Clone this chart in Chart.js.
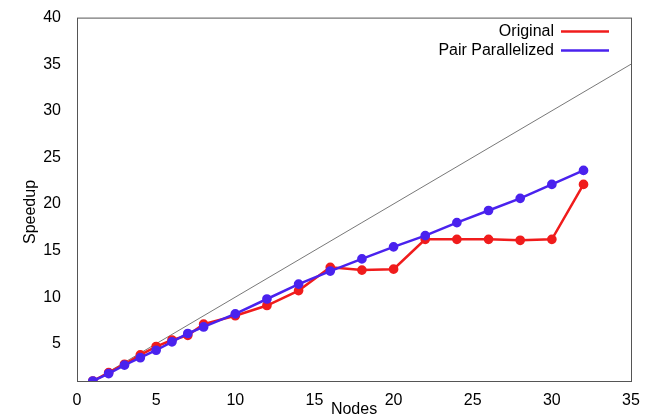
<!DOCTYPE html>
<html>
<head>
<meta charset="utf-8">
<script src="https://cdn.jsdelivr.net/npm/chart.js@4/dist/chart.umd.min.js"></script>
<style>
  html, body { margin: 0; padding: 0; background: #fff; }
  #wrap { width: 652px; height: 419px; }
</style>
</head>
<body>
<div id="wrap"><canvas id="c" width="652" height="419"></canvas></div>
<script>
// node counts
const nodes = [1, 2, 3, 4, 5, 6, 7, 8, 10, 12, 14, 16, 18, 20, 22, 24, 26, 28, 30, 32];
const original = [1, 1.9, 2.8, 3.8, 4.7, 5.4, 5.9, 7.1, 8.0, 9.1, 10.7, 13.2, 12.9, 13.0, 16.2, 16.2, 16.2, 16.1, 16.2, 22.1];
const pairParallelized = [1, 1.8, 2.7, 3.5, 4.3, 5.2, 6.1, 6.8, 8.2, 9.8, 11.4, 12.8, 14.1, 15.4, 16.6, 18.0, 19.3, 20.6, 22.1, 23.6];
// ideal speedup line
const idealX = [1, 35];
const xTicks = [0, 5, 10, 15, 20, 25, 30, 35];
const yTicks = [5, 10, 15, 20, 25, 30, 35, 40];

const font = "'Liberation Sans', Arial, sans-serif";
const toPts = (xs, ys) => xs.map((x, i) => ({ x: x, y: ys[i] }));

// box around the plot, y title, legend inside top right
const framePlugin = {
    id: 'frame',
    afterDraw(chart) {
        const { ctx, chartArea: a } = chart;
        ctx.save();
        ctx.strokeStyle = '#555';
        ctx.lineWidth = 1;
        ctx.strokeRect(a.left + 0.5, a.top + 0.5, a.right - a.left, a.bottom - a.top);

        ctx.font = '16px ' + font;
        ctx.fillStyle = '#000';
        ctx.textAlign = 'center';
        ctx.textBaseline = 'middle';
        ctx.save();
        ctx.translate(31, 212);
        ctx.rotate(-Math.PI / 2);
        ctx.fillText('Speedup', 0, 0);
        ctx.restore();

        ctx.textAlign = 'right';
        const items = chart.data.datasets.filter(d => d.label);
        items.forEach((d, i) => {
            const y = a.top + 14 + i * 19;
            ctx.fillStyle = '#000';
            ctx.fillText(d.label, a.right - 77, y);
            ctx.strokeStyle = d.borderColor;
            ctx.lineWidth = 2.5;
            ctx.beginPath();
            ctx.moveTo(a.right - 70, y);
            ctx.lineTo(a.right - 22, y);
            ctx.stroke();
        });
        ctx.restore();
    }
};

new Chart(document.getElementById('c'), {
    type: 'line',
    data: {
        datasets: [
            {
                label: 'Original',
                data: toPts(nodes, original),
                borderColor: '#f01c1c',
                backgroundColor: '#f01c1c',
                borderWidth: 2.5,
                pointRadius: 3.6,
                pointHoverRadius: 3.6,
                order: 1
            },
            {
                label: 'Pair Parallelized',
                data: toPts(nodes, pairParallelized),
                borderColor: '#4a22ee',
                backgroundColor: '#4a22ee',
                borderWidth: 2.5,
                pointRadius: 3.6,
                pointHoverRadius: 3.6,
                order: 0
            },
            {
                label: '',
                data: toPts(idealX, idealX),
                borderColor: '#555',
                borderWidth: 0.8,
                pointRadius: 0,
                order: 2
            }
        ]
    },
    options: {
        responsive: false,
        animation: false,
        layout: { padding: { left: 0, top: 13, right: 21, bottom: 0 } },
        plugins: {
            legend: { display: false },
            tooltip: { enabled: false }
        },
        scales: {
            x: {
                type: 'linear',
                min: 0,
                max: 35,
                afterBuildTicks: s => { s.ticks = xTicks.map(v => ({ value: v })); },
                afterFit: s => { s.height = 38; },
                grid: { display: false },
                border: { display: false },
                ticks: { color: '#000', font: { family: font, size: 16 }, padding: 2, maxRotation: 0 },
                title: { display: true, text: 'Nodes', color: '#000', font: { family: font, size: 16 }, padding: 0 }
            },
            y: {
                type: 'linear',
                min: 1,
                max: 40,
                afterBuildTicks: s => { s.ticks = yTicks.map(v => ({ value: v })); },
                afterFit: s => { s.width = 77; },
                grid: { display: false },
                border: { display: false },
                ticks: { color: '#000', font: { family: font, size: 16 }, padding: 8 },
                title: { display: false }
            }
        }
    },
    plugins: [framePlugin]
});
</script>
</body>
</html>
